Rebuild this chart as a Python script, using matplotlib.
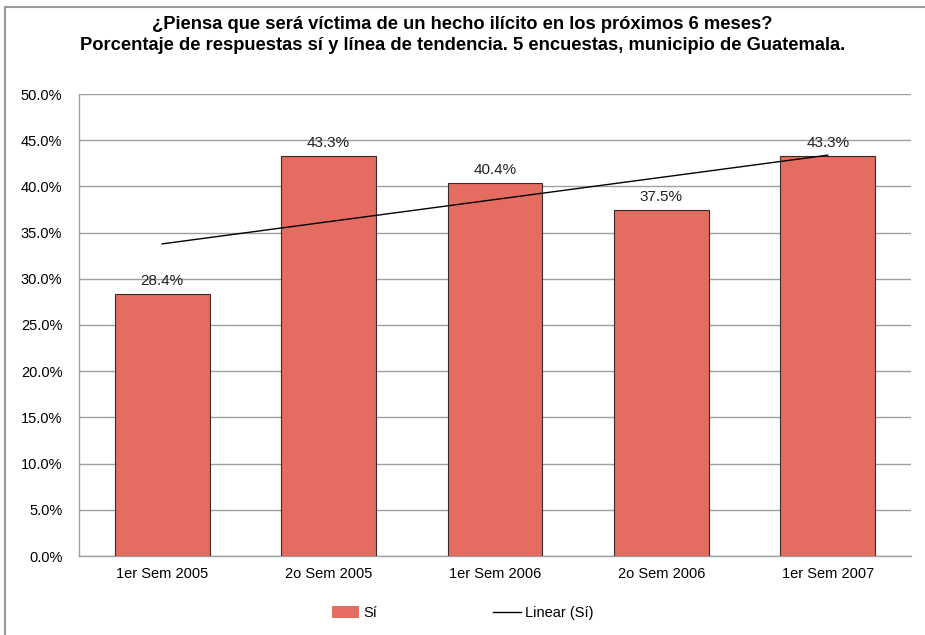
import matplotlib
matplotlib.use("Agg")
import matplotlib.pyplot as plt
import matplotlib.patches as mpatches
import matplotlib.lines as mlines
import numpy as np

categories = ["1er Sem 2005", "2o Sem 2005", "1er Sem 2006", "2o Sem 2006", "1er Sem 2007"]
si_values = [28.4, 43.3, 40.4, 37.5, 43.3]
yticks = [0, 5, 10, 15, 20, 25, 30, 35, 40, 45, 50]

plt.rcParams['font.family'] = ['Liberation Sans', 'DejaVu Sans']

fig = plt.figure(figsize=(9.25, 6.35), dpi=100)
ax = fig.add_axes([79/925, 1-556/635, (911-79)/925, (556-94)/635])

x = np.arange(len(categories))
bar_color = "#E46C60"
ax.bar(x, si_values, width=0.57, color=bar_color, edgecolor="#3a2a28", linewidth=0.8, zorder=3)

coef = np.polyfit(x, si_values, 1)
trend = np.polyval(coef, x)
ax.plot(x, trend, color="black", linewidth=1.0, zorder=4)

for xi, v in zip(x, si_values):
    ax.text(xi, v + 0.6, f"{v:.1f}%", ha="center", va="bottom", fontsize=11, color="#222222", zorder=5)

ax.set_xlim(-0.5, len(categories) - 0.5)
ax.set_ylim(0, 50)
ax.set_yticks(yticks)
ax.set_yticklabels([f"{t:.1f}%" for t in yticks], fontsize=10.5)
ax.set_xticks(x)
ax.set_xticklabels(categories, fontsize=10.5)
ax.tick_params(axis='both', length=0, pad=8)
ax.tick_params(axis='y', pad=12)
ax.yaxis.grid(True, color="#a0a0a0", linewidth=1.0, zorder=0)
ax.set_axisbelow(True)
for s in ["top", "right"]:
    ax.spines[s].set_visible(False)
for s in ["left", "bottom"]:
    ax.spines[s].set_color("#a0a0a0")
    ax.spines[s].set_linewidth(1.0)

fig.text(0.5, 1-35/635, "¿Piensa que será víctima de un hecho ilícito en los próximos 6 meses?\nPorcentaje de respuestas sí y línea de tendencia. 5 encuestas, municipio de Guatemala.",
         ha="center", va="center", fontsize=13.2, fontweight="bold", linespacing=1.25)

h_bar = mpatches.Patch(facecolor=bar_color, edgecolor="none")
h_line = mlines.Line2D([], [], color="black", linewidth=1.0)
fig.legend([h_bar, h_line], ["Sí", "Linear (Sí)"], loc="center", bbox_to_anchor=(0.5, 1-613/635), ncol=2, frameon=False,
           fontsize=10.5, handlelength=1.9, handleheight=0.9, columnspacing=7.9, handletextpad=0.3)

# outer border lines
fig.add_artist(plt.Line2D([5/925, 5/925], [0, 1-7/635], color="#9a9a9a", linewidth=1.5))
fig.add_artist(plt.Line2D([5/925, 1], [1-7/635, 1-7/635], color="#9a9a9a", linewidth=1.5))

fig.savefig("out.png", dpi=100)
